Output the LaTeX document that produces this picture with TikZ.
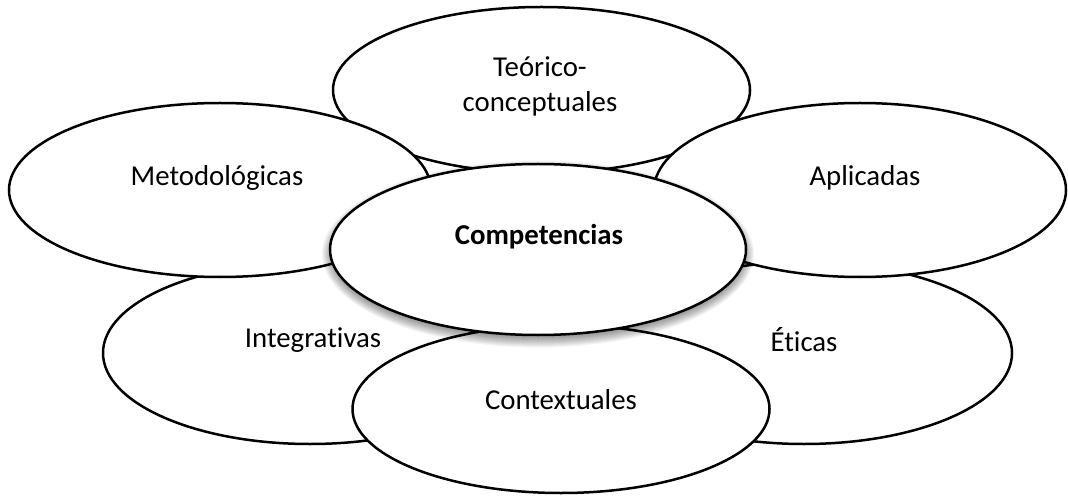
\documentclass[tikz,border=0pt]{standalone}
\usepackage{fontspec}
\setmainfont{Carlito}[Ligatures=NoCommon]
\usetikzlibrary{shapes.geometric}
\tikzset{
  oval/.style={ellipse, draw=black, fill=white, line width=1.25pt, inner sep=0pt},
  lbl/.style={align=center, font=\fontsize{14.4}{17.5}\selectfont, inner sep=0pt},
  softshade/.style={fill=black, fill opacity=0.04, draw=none},
}
\begin{document}
\begin{tikzpicture}[x=0.5pt, y=-0.5pt]
\useasboundingbox (0,0) rectangle (1068,496);
% ellipses, back to front (sizes in pt = px/2)
\node[oval, minimum width=208.5pt, minimum height=83pt] (teo) at (541.5,90) {};
\node[oval, minimum width=208pt, minimum height=91pt] (eti) at (804,353) {};
\node[oval, minimum width=207pt, minimum height=91pt] (int) at (310,353) {};
\node[oval, minimum width=211pt, minimum height=87pt] (met) at (220,190) {};
\node[oval, minimum width=206pt, minimum height=87pt] (apl) at (860,190) {};
\node[oval, minimum width=208.5pt, minimum height=84pt] (con) at (561,409) {};
% soft shadow of the central ellipse
\coordinate (shc) at (538,254);
\foreach \d in {-2,-1.5,...,4}{
  \fill[softshade] (shc) ellipse[x radius={104pt+\d pt}, y radius={42.75pt+\d pt}];
}
\node[oval, minimum width=208pt, minimum height=85.5pt] (com) at (538,249.5) {};
% labels
\node[lbl] (teoL) at (540,86) {Teórico-\\conceptuales};
\node[lbl] (metL) at (217,178) {Metodológicas};
\node[lbl] (aplL) at (865,178) {Aplicadas};
\node[lbl, font=\fontsize{14.4}{17.5}\selectfont\bfseries] (comL) at (539,237) {Competencias};
\node[lbl] (intL) at (313,340) {Integrativas};
\node[lbl] (etiL) at (804,340) {Éticas};
\node[lbl] (conL) at (561,400) {Contextuales};
\end{tikzpicture}
\end{document}
